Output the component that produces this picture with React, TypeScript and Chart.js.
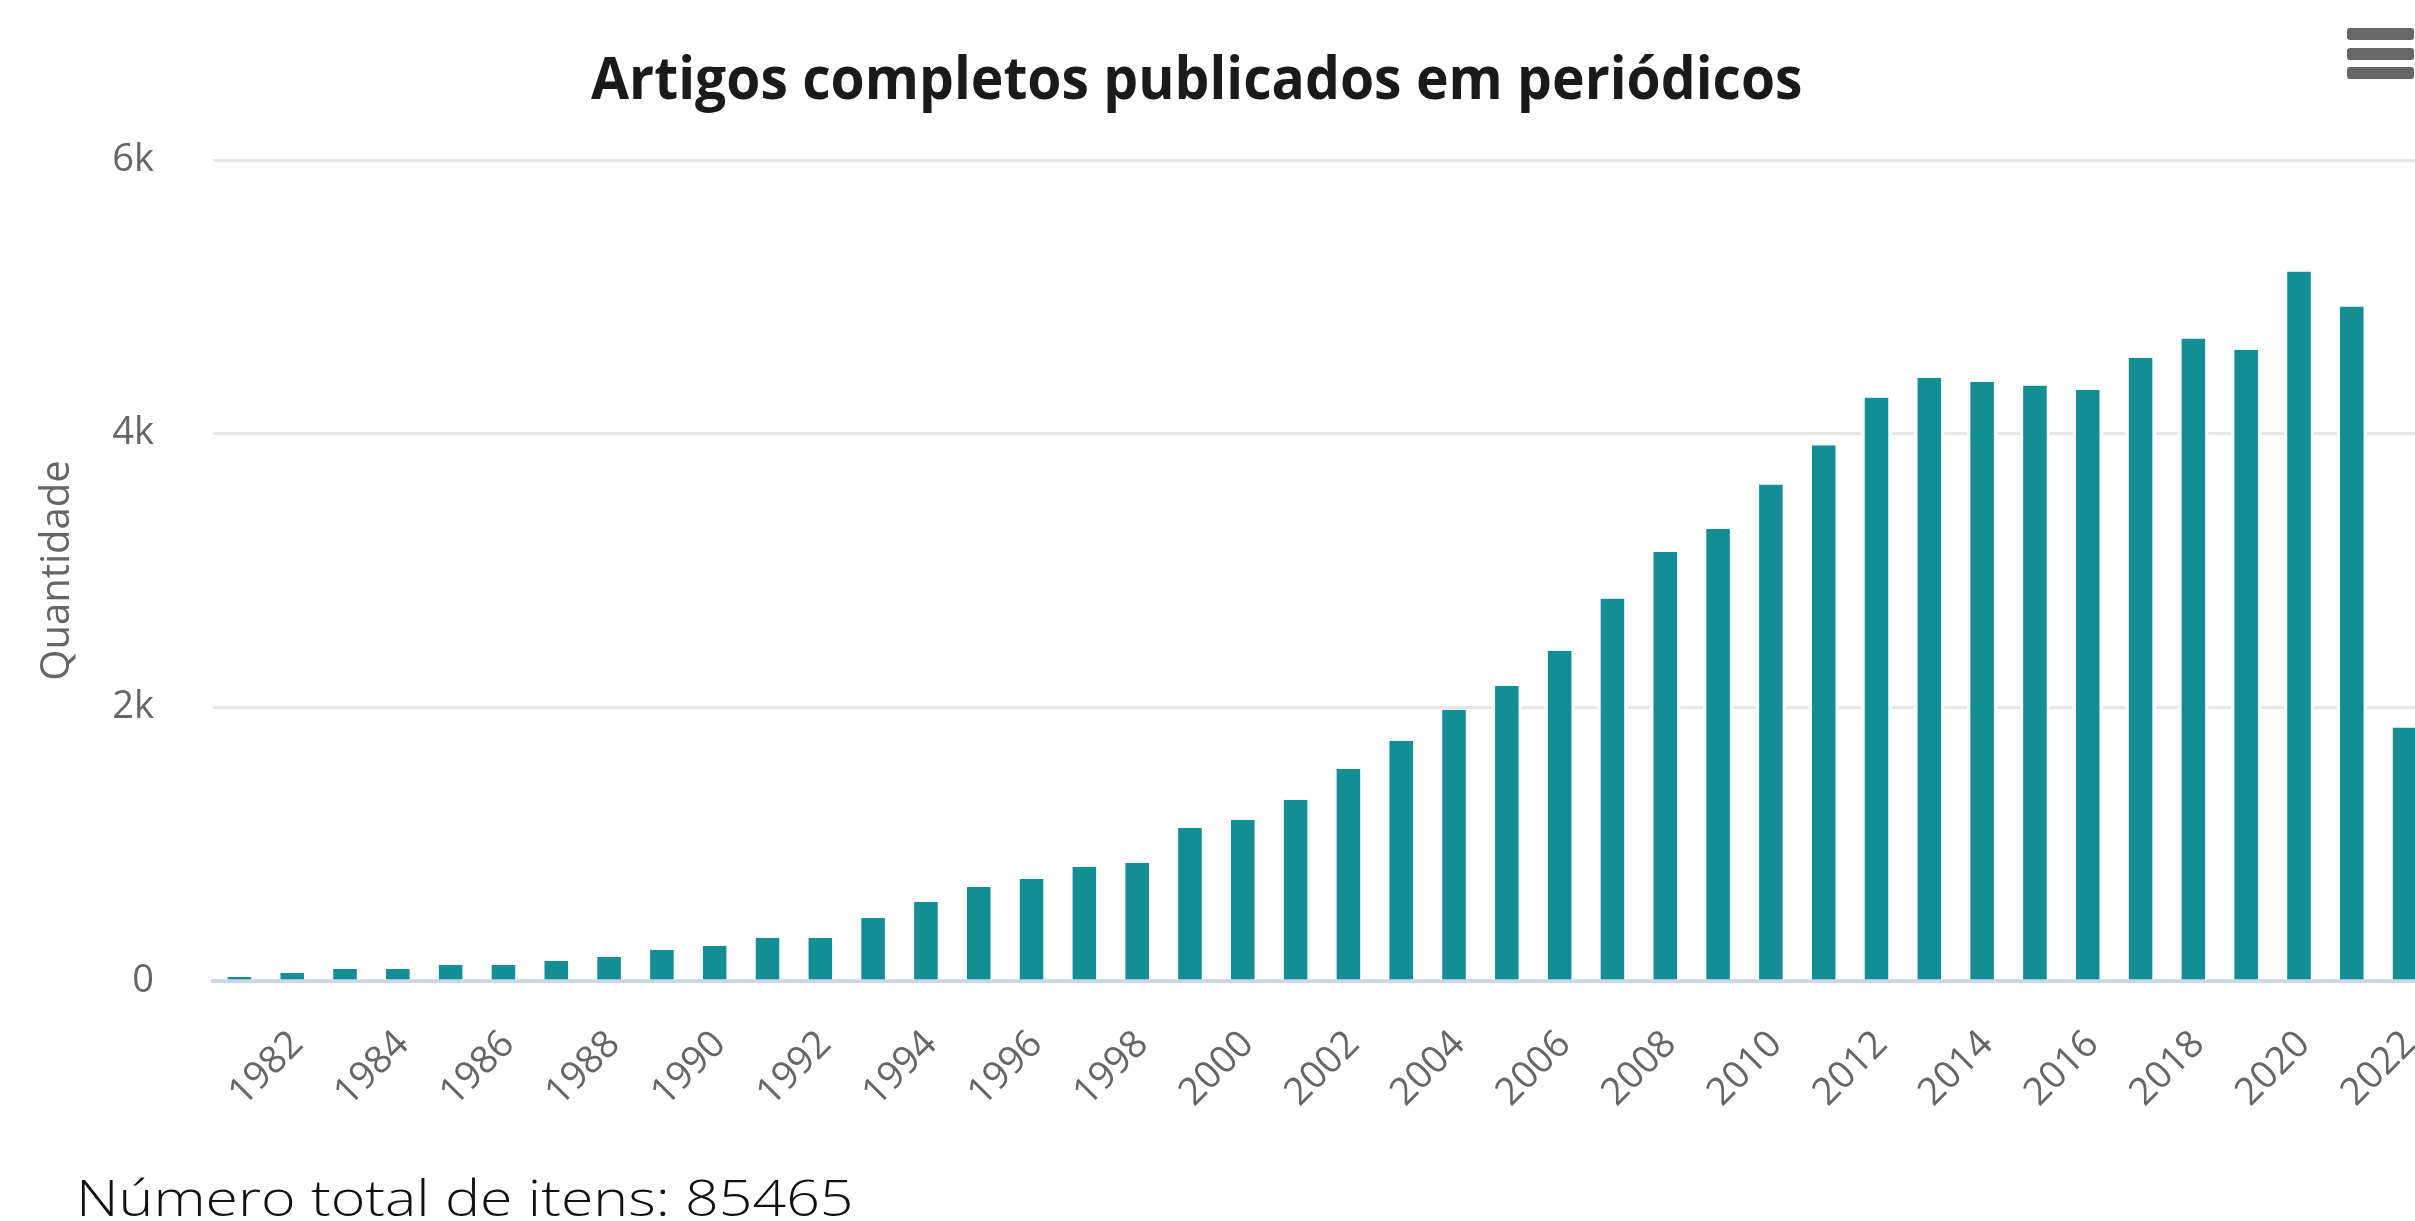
import React, { useEffect, useRef } from "react";
import { Chart, registerables } from "chart.js";

Chart.register(...registerables);

const years = [
  "1981", "1982", "1983", "1984", "1985", "1986", "1987", "1988", "1989", "1990",
  "1991", "1992", "1993", "1994", "1995", "1996", "1997", "1998", "1999", "2000",
  "2001", "2002", "2003", "2004", "2005", "2006", "2007", "2008", "2009", "2010",
  "2011", "2012", "2013", "2014", "2015", "2016", "2017", "2018", "2019", "2020",
  "2021", "2022",
];

const counts = [
  30, 58, 88, 88, 117, 117, 146, 175, 227, 256,
  314, 314, 461, 578, 687, 746, 834, 863, 1119, 1177,
  1324, 1550, 1755, 1982, 2157, 2413, 2795, 3136, 3306, 3628,
  3915, 4265, 4408, 4380, 4352, 4321, 4555, 4695, 4614, 5185,
  4929, 1852,
];

const shownYearLabels = [
  "1982", "1984", "1986", "1988", "1990", "1992", "1994", "1996", "1998", "2000",
  "2002", "2004", "2006", "2008", "2010", "2012", "2014", "2016", "2018", "2020", "2022",
];

const yTickValues = [0, 2000, 4000, 6000];
const yTickLabels = ["0", "2k", "4k", "6k"];

const titleText = "Artigos completos publicados em periódicos";
const yAxisTitle = "Quantidade";
const footerText = "Número total de itens: 85465";

const FONT = "'Open Sans', 'Noto Sans', sans-serif";

export default function App() {
  const canvasRef = useRef<HTMLCanvasElement | null>(null);
  const titleRef = useRef<HTMLDivElement | null>(null);
  const footerRef = useRef<HTMLDivElement | null>(null);

  useEffect(() => {
    const fit = (el: HTMLDivElement | null, target: number) => {
      if (!el) return;
      const w = el.scrollWidth;
      if (w > 0) el.style.transform = `scaleX(${target / w})`;
    };
    fit(titleRef.current, 1212);
    fit(footerRef.current, 777);

    const canvas = canvasRef.current;
    if (!canvas) return;
    const chart = new Chart(canvas, {
      type: "bar",
      data: {
        labels: years,
        datasets: [
          {
            data: counts,
            backgroundColor: "#128e94",
            borderColor: "#ffffff",
            borderWidth: { left: 3.5, right: 3.5, top: 0, bottom: 0 },
            borderSkipped: false,
            barPercentage: 0.578,
            categoryPercentage: 1,
          },
        ],
      },
      options: {
        responsive: false,
        animation: false,
        devicePixelRatio: 1,
        layout: { padding: { top: 160, left: 0, right: 9, bottom: 0 } },
        plugins: {
          legend: { display: false },
          tooltip: { enabled: false },
          title: { display: false },
        },
        scales: {
          x: {
            grid: { display: false },
            border: { display: true, color: "#ccd6eb", width: 4 },
            ticks: {
              autoSkip: false,
              minRotation: 45,
              maxRotation: 45,
              padding: 33,
              labelOffset: 5,
              color: "#666666",
              font: { family: FONT, size: 38 },
              callback: (_v: any, i: number) =>
                shownYearLabels.includes(years[i]) ? years[i] : "",
            },
            afterFit: (s: any) => {
              s.height = 149;
              s.paddingLeft = 0;
              s.paddingRight = 0;
            },
          },
          y: {
            min: 0,
            max: 6000,
            afterBuildTicks: (s: any) => {
              s.ticks = yTickValues.map((v) => ({ value: v }));
            },
            ticks: {
              padding: 59,
              color: "#666666",
              font: { family: FONT, size: 38 },
              callback: (v: any) => yTickLabels[yTickValues.indexOf(Number(v))] ?? "",
            },
            grid: { color: "#e6e6e6", lineWidth: 3, drawTicks: false },
            border: { display: false },
            title: {
              display: true,
              text: yAxisTitle,
              color: "#666666",
              font: { family: FONT, size: 40 },
              padding: { top: 34, bottom: 0 },
            },
            afterFit: (s: any) => {
              s.width = 213;
            },
          },
        },
      },
    });
    return () => chart.destroy();
  }, []);

  return (
    <div
      style={{
        position: "fixed",
        left: 0,
        top: 0,
        width: 2415,
        height: 1221,
        overflow: "hidden",
        background: "#ffffff",
      }}
    >
      <canvas
        ref={canvasRef}
        width={2440}
        height={1130}
        style={{ position: "absolute", left: 0, top: 0, width: 2440, height: 1130 }}
      />
      <div
        ref={titleRef}
        style={{
          position: "absolute",
          left: 591,
          top: 47,
          fontFamily: FONT,
          fontWeight: 700,
          fontSize: 59,
          lineHeight: "59px",
          color: "#1a1a1a",
          whiteSpace: "nowrap",
          transformOrigin: "0 0",
        }}
      >
        {titleText}
      </div>
      <div
        style={{
          position: "absolute",
          left: 2347,
          top: 28,
          width: 67,
        }}
      >
        {[0, 1, 2].map((k) => (
          <div
            key={k}
            style={{
              height: 12,
              marginBottom: k < 2 ? 7.5 : 0,
              background: "#666666",
              borderRadius: 3,
            }}
          />
        ))}
      </div>
      <div
        ref={footerRef}
        style={{
          position: "absolute",
          left: 76,
          top: 1173,
          fontFamily: FONT,
          fontWeight: 300,
          fontSize: 49,
          lineHeight: "49px",
          color: "#111111",
          whiteSpace: "nowrap",
          transformOrigin: "0 0",
        }}
      >
        {footerText}
      </div>
    </div>
  );
}
